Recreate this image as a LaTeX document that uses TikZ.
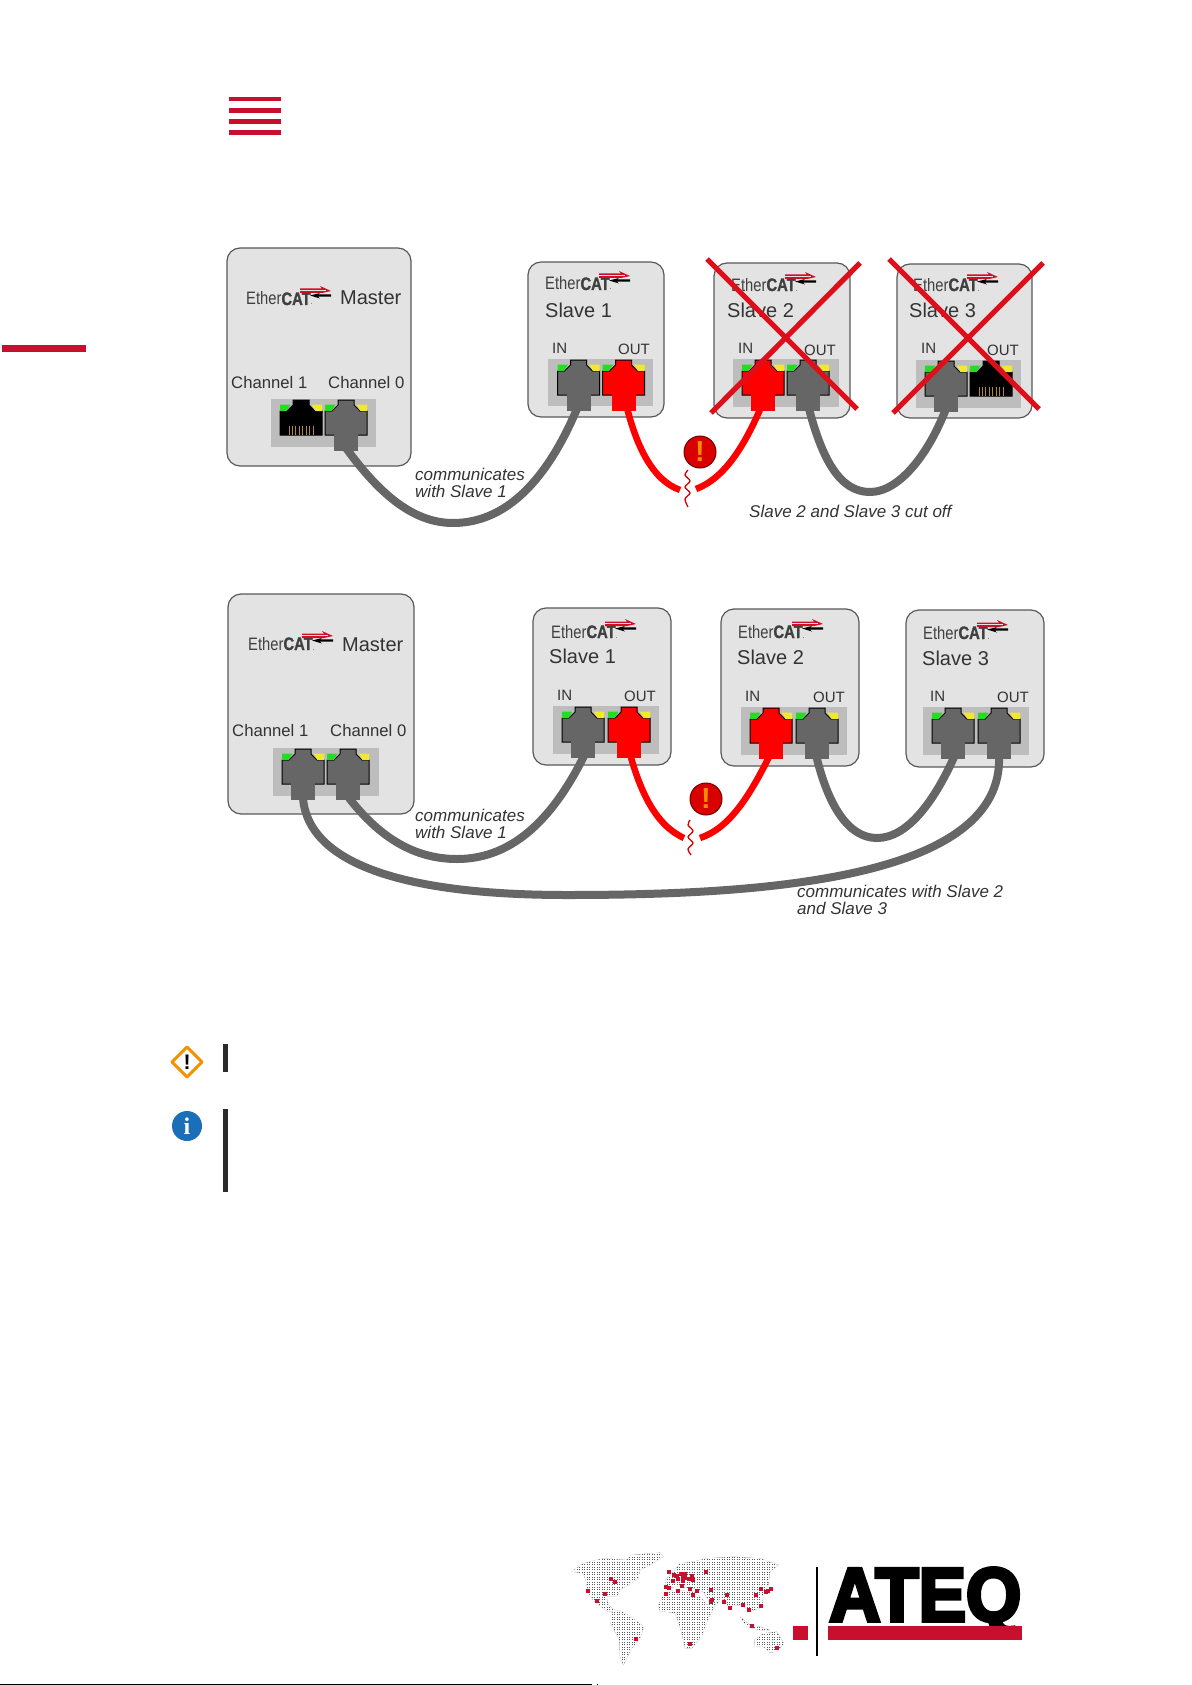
\documentclass[tikz,border=0pt]{standalone}
\usepackage{fontspec}
\usepackage{graphicx}
\setmainfont{Liberation Sans}
\newfontfamily\serifi{Liberation Serif}
\newfontfamily\ateqfont[BoldFeatures={FakeBold=5}]{Liberation Sans}
\newfontfamily\catfont[BoldFeatures={FakeBold=1.5}]{Liberation Sans}
\definecolor{ateqred}{HTML}{C8102E}
\definecolor{plugg}{HTML}{666666}
\definecolor{boxg}{HTML}{E3E3E3}
\definecolor{panelg}{HTML}{BDBDBD}
\definecolor{txt}{HTML}{333333}
\definecolor{xred}{HTML}{DD0F1A}
\definecolor{ledg}{HTML}{22DD22}
\definecolor{ledy}{HTML}{F2E830}
\definecolor{gold}{HTML}{B08A30}
\definecolor{warnorange}{HTML}{F39200}
\definecolor{infoblue}{HTML}{1B6EB8}
\tikzset{
  devbox/.style={draw=black!65,line width=1.2pt,fill=boxg,rounded corners=13pt,inner sep=0pt},
  panelbox/.style={fill=panelg,draw=none,inner sep=0pt},
  lab/.style={anchor=base west,inner sep=0pt,text=txt,font=\fontsize{#1}{#1}\selectfont},
  note/.style={anchor=base west,inner sep=0pt,text=txt,font=\fontsize{17}{17}\selectfont\itshape},
  cable/.style={draw=plugg,line width=8pt},
  redcable/.style={draw=red,line width=6.5pt},
  crossline/.style={draw=xred,line width=5.2pt},
  alertdot/.style={circle,fill=red!85!black,draw=black!55!red,line width=1pt,minimum size=32pt,inner sep=0pt,text=orange!90!yellow,font=\fontsize{29}{29}\selectfont\bfseries},
  crack/.style={draw=red!85!black,line width=1.3pt}
}
% socket outline, centre x, panel top y
\newcommand{\socketpath}{(-21,36)--(-21,12)--(-14,12)--(-8,6)--(-8,1)--(8,1)--(8,6)--(14,12)--(21,12)--(21,36)--cycle}
\newcommand{\leds}{\fill[ledg](-21,5.5)--(-10.5,5.5)--(-14.5,12)--(-21,12)--cycle;\fill[ledy](10.5,5.5)--(21,5.5)--(21,12)--(14.5,12)--cycle;}
\newcommand{\plugport}[3]{\begin{scope}[shift={(#1,#2)}]
 \fill[#3](-12,36)rectangle(12,52);
 \filldraw[fill=#3,draw=black,line width=1pt]\socketpath;
 \fill[#3](-12,34)rectangle(12,52);\leds\end{scope}}
\newcommand{\openport}[2]{\begin{scope}[shift={(#1,#2)}]
 \filldraw[fill=black,draw=black,line width=1pt]\socketpath;\leds
 \foreach \q in {-12,-8.6,-5.2,-1.8,1.8,5.2,8.6,12}{\draw[gold,line width=1pt](\q,27)--(\q,36);}\end{scope}}
\newcommand{\ecat}[3]{%
 \node[inner sep=0pt,anchor=base west,text=black!75] (#1) at (#2,#3) {\scalebox{0.82}[1]{\fontsize{18}{18}\selectfont Ether\catfont\textbf{CAT}\fontsize{8}{8}\selectfont.}};
 \begin{scope}[shift={(#2,#3)}]
 \fill[ateqred!85!red](54,-16.5)--(76,-16.5)--(74,-19)--(85,-14)--(76,-12)--(54,-12)--cycle;
 \fill[boxg](54,-14.6)rectangle(80,-13.9);
 \fill[black](85,-8.4)--(72,-8.4)--(74,-6.5)--(64,-9.5)--(74,-12)--(72,-10.6)--(85,-10.6)--cycle;
 \end{scope}}
\begin{document}
\begin{tikzpicture}[x=1pt,y=-1pt]
\useasboundingbox (0,0) rectangle (1191,1685);
\fill[white] (0,0) rectangle (1191,1685);
% header marks
\foreach \yy in {97,108.2,119.4,130.5}{\fill[ateqred](229,\yy)rectangle(281,\yy+4.4);}
\fill[ateqred](2,345)rectangle(86,352);

% ---- first diagram: boxes and panels
\node[devbox,minimum width=184pt,minimum height=218pt] (m1) at (319,357) {};
\node[devbox,minimum width=136pt,minimum height=155pt] (a1) at (596,339.5) {};
\node[devbox,minimum width=136pt,minimum height=155pt] (a2) at (782,340.5) {};
\node[devbox,minimum width=135pt,minimum height=154pt] (a3) at (964.5,341) {};
\node[panelbox,minimum width=105pt,minimum height=48pt] (pm1) at (323.5,423) {};
\node[panelbox,minimum width=105pt,minimum height=47pt] (pa1) at (600.5,382.5) {};
\node[panelbox,minimum width=106pt,minimum height=48pt] (pa2) at (786,383) {};
\node[panelbox,minimum width=105pt,minimum height=48pt] (pa3) at (968.5,384) {};
% cable ends
\coordinate (m1ch0) at (346,448);
\coordinate (a1in) at (579,404);
\coordinate (a1out) at (626,404);
\coordinate (a2in) at (762,405);
\coordinate (a2out) at (808,405);
\coordinate (a3in) at (947,406);
\coordinate (cutA) at (680,490);
\coordinate (cutB) at (696,489);
% cables
\draw[cable] (m1ch0) .. controls (378,492) and (412,523) .. (453,523) .. controls (512,523) and (552,470) .. (a1in);
\draw[redcable] (a1out) .. controls (636,445) and (652,480) .. (cutA);
\draw[redcable] (cutB) .. controls (725,478) and (745,445) .. (a2in);
\draw[cable] (a2out) .. controls (822,460) and (840,492) .. (870,492) .. controls (900,492) and (930,452) .. (a3in);
% ports
\openport{301}{399}
\plugport{346}{399}{plugg}
\plugport{578.5}{359}{plugg}
\plugport{623.5}{359}{red}
\plugport{763}{359}{red}
\plugport{808}{359}{plugg}
\plugport{946}{360}{plugg}
\openport{991}{360}
% texts
\ecat{e1m}{246}{305}
\ecat{e1a}{545}{290}
\ecat{e1b}{731}{291}
\ecat{e1c}{913}{291}
\node[lab=20] (t1) at (340,305) {Master};
\node[lab=16.7] (t2) at (231,388) {Channel 1};
\node[lab=16.7] (t3) at (328,388) {Channel 0};
\node[lab=20] (t4) at (545,317) {Slave 1};
\node[lab=15] (t5) at (552,353) {IN};
\node[lab=15] (t6) at (618,354) {OUT};
\node[lab=20] (t7) at (727,318) {Slave 2};
\node[lab=15] (t8) at (738,353) {IN};
\node[lab=15] (t9) at (804,355) {OUT};
\node[lab=20] (t10) at (909,318) {Slave 3};
\node[lab=15] (t11) at (921,353) {IN};
\node[lab=15] (t12) at (987,355) {OUT};
\node[note] (t13) at (415,480) {communicates};
\node[note] (t14) at (415,497) {with Slave 1};
\node[note] (t15) at (749,517) {Slave 2 and Slave 3 cut off};
% crosses
\coordinate (xa1) at (707,259); \coordinate (xa2) at (857,409);
\coordinate (xa3) at (860,263); \coordinate (xa4) at (711,413);
\coordinate (xb1) at (889,259); \coordinate (xb2) at (1039,409);
\coordinate (xb3) at (1043,263); \coordinate (xb4) at (893,413);
\draw[crossline] (xa1)--(xa2); \draw[crossline] (xa3)--(xa4);
\draw[crossline] (xb1)--(xb2); \draw[crossline] (xb3)--(xb4);
% break
\node[alertdot] (w1) at (700,452) {!};
\draw[crack] plot[smooth] coordinates {(688,470)(685,475)(690,481)(685,487)(690,493)(685,499)(688,507)};

% ---- second diagram
\node[devbox,minimum width=186pt,minimum height=220pt] (m2) at (321,704) {};
\node[devbox,minimum width=138pt,minimum height=157pt] (b1) at (602,686.5) {};
\node[devbox,minimum width=138pt,minimum height=157pt] (b2) at (790,687.5) {};
\node[devbox,minimum width=138pt,minimum height=157pt] (b3) at (975,688.5) {};
\node[panelbox,minimum width=106pt,minimum height=48pt] (pm2) at (326,772) {};
\node[panelbox,minimum width=106pt,minimum height=48pt] (pb1) at (606,730) {};
\node[panelbox,minimum width=106pt,minimum height=48pt] (pb2) at (794,731) {};
\node[panelbox,minimum width=106pt,minimum height=48pt] (pb3) at (976,731) {};
\coordinate (m2ch1) at (303,798);
\coordinate (m2ch0) at (349,798);
\coordinate (b1in) at (585,754);
\coordinate (b1out) at (630,754);
\coordinate (b2in) at (770,755);
\coordinate (b2out) at (816,755);
\coordinate (b3in) at (955,755);
\coordinate (b3out) at (999,755);
\coordinate (cutC) at (684,838);
\coordinate (cutD) at (700,838);
\draw[cable] (m2ch0) .. controls (380,838) and (415,859) .. (457,859) .. controls (515,859) and (555,815) .. (b1in);
\draw[cable] (m2ch1) .. controls (307,850) and (370,895) .. (567,895) .. controls (760,895) and (1005,880) .. (b3out);
\draw[redcable] (b1out) .. controls (640,790) and (655,825) .. (cutC);
\draw[redcable] (cutD) .. controls (730,828) and (750,795) .. (b2in);
\draw[cable] (b2out) .. controls (828,805) and (848,838) .. (877,838) .. controls (908,838) and (935,800) .. (b3in);
\plugport{303}{748}{plugg}
\plugport{348}{748}{plugg}
\plugport{583}{706}{plugg}
\plugport{629}{706}{red}
\plugport{771}{707}{red}
\plugport{817}{707}{plugg}
\plugport{953}{707}{plugg}
\plugport{999}{707}{plugg}
\ecat{e2m}{248}{650}
\ecat{e2a}{551}{638}
\ecat{e2b}{738}{638}
\ecat{e2c}{923}{639}
\node[lab=20] (u1) at (342,651) {Master};
\node[lab=16.7] (u2) at (232,736) {Channel 1};
\node[lab=16.7] (u3) at (330,736) {Channel 0};
\node[lab=20] (u4) at (549,663) {Slave 1};
\node[lab=15] (u5) at (557,700) {IN};
\node[lab=15] (u6) at (624,701) {OUT};
\node[lab=20] (u7) at (737,664) {Slave 2};
\node[lab=15] (u8) at (745,701) {IN};
\node[lab=15] (u9) at (813,702) {OUT};
\node[lab=20] (u10) at (922,665) {Slave 3};
\node[lab=15] (u11) at (930,701) {IN};
\node[lab=15] (u12) at (997,702) {OUT};
\node[note] (u13) at (415,821) {communicates};
\node[note] (u14) at (415,838) {with Slave 1};
\node[note] (u15) at (797,897) {communicates with Slave 2};
\node[note] (u16) at (797,914) {and Slave 3};
\node[alertdot] (w2) at (706,799) {!};
\draw[crack] plot[smooth] coordinates {(690,820)(688,825)(693,831)(688,837)(693,843)(688,849)(691,855)};

% ---- margin icons
\draw[draw=warnorange,line width=3pt,line join=round,fill=white] (187,1047)--(202,1062)--(187,1077)--(172,1062)--cycle;
\node[inner sep=0pt,font=\fontsize{21}{21}\selectfont\bfseries,text=black] (warnmark) at (187,1062) {!};
\fill[black!83](223,1044)rectangle(228,1072);
\node[circle,fill=infoblue,minimum size=30pt,inner sep=0pt,text=white,font=\fontsize{24}{24}\selectfont\bfseries\serifi] (infomark) at (187,1126) {i};
\fill[black!83](223,1109)rectangle(228,1192);

% ---- company mark
\begin{scope}[shift={(560,1530)},x=0.33333pt,y=-0.33333pt]
 \begin{scope}
 \clip (35,125)--(70,100)--(130,85)--(200,90)--(215,75)--(300,68)--(310,80)--(270,105)--(240,120)--(235,145)--(205,165)--(180,180)--(170,200)--(140,200)--(145,225)--(170,245)--(145,245)--(120,228)--(100,212)--(85,188)--(78,155)--(70,130)--cycle
 (150,250)--(175,240)--(205,255)--(252,290)--(240,325)--(215,355)--(200,385)--(190,405)--(180,380)--(178,330)--(160,295)--(150,275)--cycle
 (340,125)--(360,100)--(400,95)--(440,85)--(520,80)--(600,85)--(655,105)--(630,125)--(625,165)--(605,200)--(610,230)--(570,245)--(545,225)--(520,225)--(510,240)--(495,210)--(480,205)--(470,225)--(445,210)--(430,185)--(400,175)--(350,170)--(320,175)--(315,150)--cycle
 (295,225)--(310,195)--(340,180)--(400,185)--(425,205)--(440,225)--(470,215)--(450,255)--(435,290)--(425,320)--(395,355)--(375,355)--(365,310)--(355,275)--(345,250)--(320,245)--(300,245)--cycle
 (583,330)--(610,310)--(650,305)--(672,340)--(650,365)--(630,368)--(610,350)--(585,350)--cycle
 (540,260)--(570,285)--(600,290)--(630,300)--(600,300)--(560,290)--cycle;
 \fill[black!65] (0,50) rectangle (700,420);
 \foreach \g in {0,5,...,700}{\draw[white,line width=0.45pt](\g,50)--(\g,420);}
 \foreach \g in {50,55,...,420}{\draw[white,line width=0.45pt](0,\g)--(700,\g);}
 \end{scope}
 \foreach \a/\b in {328/125,438/127,342/136,350/137,364/131,376/131,395/137,368/143,376/143,355/148,340/152,388/148,400/150,368/154,152/147,165/157,134/193,85/183,112/214,318/170,328/173,367/168,390/178,354/183,412/183,453/181,317/192,398/195,604/178,632/176,624/182,619/186,589/195,501/194,456/210,454/216,491/216,511/234,548/225,602/228,567/241,575/287,228/328,389/343,652/355}{\fill[ateqred](\a-6,\b-6)rectangle(\a+6,\b+6);}
\end{scope}
\fill[ateqred](793,1626)rectangle(808,1639.5);
\draw[black,line width=2.5pt](817,1567)--(817,1656);
\node[inner sep=0pt,anchor=base west,text=black] (ateq) at (829,1621) {\resizebox{192pt}{53pt}{\ateqfont\bfseries ATEQ}};
\fill[ateqred](828,1626)rectangle(1022,1639.5);
\draw[black,line width=1pt](0,1684)--(592,1684);
\fill[black](596.5,1683.5)rectangle(597.5,1684.5);
\end{tikzpicture}
\end{document}
